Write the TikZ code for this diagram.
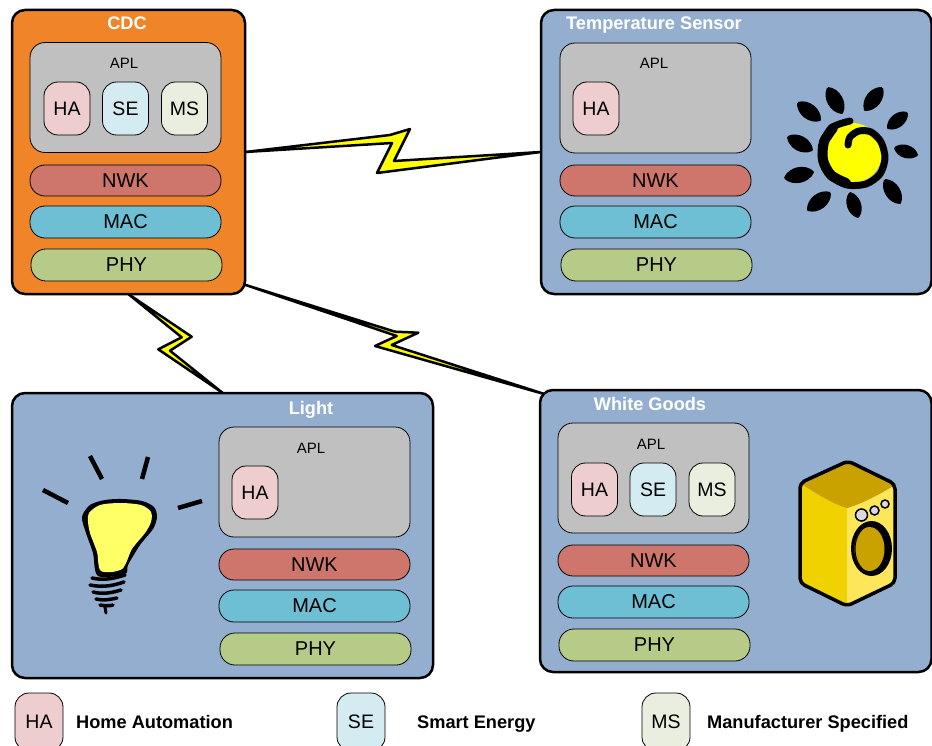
\documentclass[tikz,border=0pt]{standalone}
\usepackage{fontspec}
\setmainfont{Liberation Sans}
\usetikzlibrary{calc}
\definecolor{cdcorange}{HTML}{F08428}
\definecolor{devblue}{HTML}{94AECF}
\definecolor{aplgray}{HTML}{C0C0C0}
\definecolor{nwkred}{HTML}{CF766C}
\definecolor{macblue}{HTML}{6EBED4}
\definecolor{phygreen}{HTML}{B6CB87}
\definecolor{hapink}{HTML}{EDCDCD}
\definecolor{secyan}{HTML}{D4EBF1}
\definecolor{mscream}{HTML}{EAEEDE}
\definecolor{boltyellow}{HTML}{FFFF00}
\definecolor{bulbyellow}{HTML}{FFFF66}
\definecolor{wmtop}{HTML}{C9A200}
\definecolor{wmleft}{HTML}{F0D200}
\definecolor{wmright}{HTML}{FDE65A}
\definecolor{knobgray}{HTML}{DADADA}
\begin{document}
\begin{tikzpicture}[x=1pt,y=-1pt,
  devbox/.style={draw=black, line width=2.5pt, rounded corners=13pt, inner sep=0pt},
  devtitle/.style={anchor=base, text=white, font=\fontsize{18.2}{20}\selectfont\bfseries, inner sep=0pt},
  aplbox/.style={draw=black, line width=0.8pt, fill=aplgray, rounded corners=15pt,
    minimum width=191pt, minimum height=110pt, inner sep=0pt},
  apllabel/.style={font=\fontsize{15}{17}\selectfont, inner sep=0pt},
  layer/.style={draw=black, line width=0.8pt, rounded corners=15pt, minimum width=191pt,
    minimum height=31pt, inner sep=0pt, font=\fontsize{20}{23}\selectfont},
  proto/.style={draw=black, line width=0.8pt, rounded corners=14pt, minimum width=46pt,
    minimum height=53pt, inner sep=0pt, font=\fontsize{19.5}{22}\selectfont},
  legendtext/.style={anchor=base west, inner sep=0pt, font=\fontsize{18.2}{20}\selectfont\bfseries},
  bolt/.style={fill=boltyellow, draw=black, line width=2.5pt, line join=round},
  sunray/.style={fill=black, draw=black, line width=2pt, line join=round},
  bulbray/.style={draw=black, line width=4.5pt},
]
\path[clip] (0,0) rectangle (932,746);
\fill[white] (0,0) rectangle (932,746);

% ---- device frames (positions only; drawn again after the bolts) ----
\path (128.5,152) node[minimum width=233pt, minimum height=284pt, inner sep=0pt] (cdc) {};
\path (736.25,152) node[minimum width=390.5pt, minimum height=284pt, inner sep=0pt] (temp) {};
\path (222.5,535.5) node[minimum width=421pt, minimum height=285pt, inner sep=0pt] (light) {};
\path (735.75,531) node[minimum width=391.5pt, minimum height=282pt, inner sep=0pt] (wg) {};

% ---- radio links ----
\draw[bolt] (cdc.east) -- (390,135) -- (410,129) -- (394,161) -- (temp.west)
  -- (377,173) -- (392,143) -- cycle;
\draw[bolt] (cdc.south) -- (191.7,336.7) -- (170,350.7) -- (light.north)
  -- (158.3,349.3) -- (181.7,337.3) -- cycle;
\draw[bolt] ($(cdc.south east)+(-2,-10)$) -- (395,331.7) -- (418.3,332.7) -- (391.7,345)
  -- ($(wg.north west)+(7,5)$) -- (375,346) -- (396.7,336) -- cycle;

% ---- device frames ----
\node[devbox, fill=cdcorange, minimum width=233pt, minimum height=284pt] at (cdc) {};
\node[devbox, fill=devblue, minimum width=390.5pt, minimum height=284pt] at (temp) {};
\node[devbox, fill=devblue, minimum width=421pt, minimum height=285pt] at (light) {};
\node[devbox, fill=devblue, minimum width=391.5pt, minimum height=282pt] at (wg) {};

\node[devtitle] (cdctitle) at (127,29.5) {CDC};
\node[devtitle] (temptitle) at (654,29.5) {Temperature Sensor};
\node[devtitle] (lighttitle) at (311,414.5) {Light};
\node[devtitle] (wgtitle) at (650,410.5) {White Goods};

% ---- CDC stack ----
\node[aplbox] (cdcapl) at (125.5,97.5) {};
\node[apllabel] (cdcapllbl) at (124,63) {APL};
\node[proto, fill=hapink] (cdcha) at (67,108.5) {HA};
\node[proto, fill=secyan] (cdcse) at (125.5,108.5) {SE};
\node[proto, fill=mscream] (cdcms) at (184.5,108.5) {MS};
\node[layer, fill=nwkred] (cdcnwk) at (125.5,180.5) {NWK};
\node[layer, fill=macblue, minimum height=32pt] (cdcmac) at (125.5,222) {MAC};
\node[layer, fill=phygreen, minimum height=32pt] (cdcphy) at (126.5,265) {PHY};

% ---- Temperature sensor stack ----
\node[aplbox] (tempapl) at (655.5,98) {};
\node[apllabel] (tempapllbl) at (654,63) {APL};
\node[proto, fill=hapink] (tempha) at (596,108.5) {HA};
\node[layer, fill=nwkred] (tempnwk) at (655.5,180.5) {NWK};
\node[layer, fill=macblue, minimum height=32pt] (tempmac) at (655.5,222) {MAC};
\node[layer, fill=phygreen, minimum height=32pt] (tempphy) at (656.5,265) {PHY};

% ---- Light stack ----
\node[aplbox] (lightapl) at (314.5,482) {};
\node[apllabel] (lightapllbl) at (311,448) {APL};
\node[proto, fill=hapink] (lightha) at (255,492.5) {HA};
\node[layer, fill=nwkred] (lightnwk) at (314.5,564.5) {NWK};
\node[layer, fill=macblue, minimum height=32pt] (lightmac) at (314.5,606) {MAC};
\node[layer, fill=phygreen, minimum height=32pt] (lightphy) at (315.5,649) {PHY};

% ---- White goods stack ----
\node[aplbox] (wgapl) at (653.5,478) {};
\node[apllabel] (wgapllbl) at (651,444) {APL};
\node[proto, fill=hapink] (wgha) at (594.5,489.5) {HA};
\node[proto, fill=secyan] (wgse) at (653,489.5) {SE};
\node[proto, fill=mscream] (wgms) at (712,489.5) {MS};
\node[layer, fill=nwkred] (wgnwk) at (653.5,560.5) {NWK};
\node[layer, fill=macblue, minimum height=32pt] (wgmac) at (653.5,602) {MAC};
\node[layer, fill=phygreen, minimum height=32pt] (wgphy) at (654.5,645) {PHY};

% ---- sun ----
\fill[boltyellow] (852,153) circle (30);
\draw[sunray] (828,88) to[bend left=55] (842,113) to[bend left=55] (828,88);
\draw[sunray] (882,88) to[bend left=55] (865,110) to[bend left=55] (882,88);
\draw[sunray] (798,103) to[bend left=55] (820,120) to[bend left=55] (798,103);
\draw[sunray] (907,113) to[bend left=55] (888,128) to[bend left=55] (907,113);
\draw[sunray] (788,137) to[bend left=55] (812,150) to[bend left=55] (788,137);
\draw[sunray] (895,148) to[bend left=55] (917,155) to[bend left=55] (895,148);
\draw[sunray] (785,178) to[bend left=55] (813,172) to[bend left=55] (785,178);
\draw[sunray] (885,180) to[bend left=55] (900,203) to[bend left=55] (885,180);
\draw[sunray] (830,193) to[bend left=55] (808,210) to[bend left=55] (830,193);
\draw[sunray] (850,193) to[bend left=55] (858,217) to[bend left=55] (850,193);
\draw[line width=7pt, line cap=round, line join=round] plot[smooth] coordinates {
  (850,121) (833,127) (823,142) (822,160) (831,176) (847,185) (866,184) (880,174)
  (885,158) (881,142) (871,132) (859,131) (850,137) (848,145)};
\draw[line width=10pt, line cap=round] plot[smooth] coordinates {
  (833,128) (824,142) (823,160) (831,175) (846,183)};

% ---- light bulb ----
\draw[bulbray] (43,490) -- (68,503);
\draw[bulbray] (90,456) -- (102,479);
\draw[bulbray] (148,457) -- (142,479);
\draw[bulbray] (178,508) -- (202,501);
\fill[black] plot[smooth cycle] coordinates {
  (82,517) (90,505) (105,500) (122,499) (142,501) (154,507) (157,517) (153,529)
  (140,545) (128,565) (125,574) (98,576) (93,553) (86,533)};
\fill[bulbyellow] plot[smooth cycle] coordinates {
  (89,513) (100,505) (120,503) (141,505) (151,512) (151,522) (145,533) (132,549)
  (122,569) (101,571) (97,552) (90,533) (88,521)};
\draw[line width=3.5pt, line cap=round] (92,578) .. controls (105,581) and (115,578) .. (125,575);
\draw[line width=3.5pt, line cap=round] (90,585) .. controls (104,588) and (115,585) .. (124,582);
\draw[line width=3.5pt, line cap=round] (93,592) .. controls (104,595) and (114,592) .. (121,590);
\draw[line width=3.5pt, line cap=round] (96,599) .. controls (105,601) and (112,599) .. (117,598);
\draw[line width=3.5pt, line cap=round] (100,605) .. controls (105,606) and (110,606) .. (113,605);
\draw[line width=3pt, line cap=round] (105,607) -- (106,613);

% ---- washing machine ----
\fill[wmleft] (800,483) -- (847,508) -- (847,605) -- (800,582) -- cycle;
\fill[wmright] (847,508) -- (895,485) -- (895,582) -- (847,605) -- cycle;
\fill[wmtop] (848,462) -- (800,483) .. controls (820,496) and (835,505) .. (847,508)
  .. controls (862,504) and (880,494) .. (895,485) -- cycle;
\draw[line width=3.5pt, line join=round, rounded corners=5pt]
  (848,461) -- (895,484) -- (895,583) -- (847,606) -- (800,583) -- (800,483) -- cycle;
\fill[black] (871.5,548.5) ellipse (20.5 and 27.5);
\fill[wmtop] (869.5,549) ellipse (15 and 22);
\draw[black, line width=1pt] (872,549) ellipse (17 and 24);
\filldraw[fill=knobgray, draw=black, line width=1.5pt] (861.5,515) circle (6);
\filldraw[fill=knobgray, draw=black, line width=1.5pt] (874.5,510.5) circle (4.5);
\filldraw[fill=knobgray, draw=black, line width=1.5pt] (885,504) circle (4);

% ---- legend ----
\node[proto, fill=hapink, minimum width=48pt, minimum height=58pt] (keyha) at (39,722) {HA};
\node[legendtext] (keyhatext) at (76,728.5) {Home Automation};
\node[proto, fill=secyan, minimum width=48pt, minimum height=58pt] (keyse) at (361,722) {SE};
\node[legendtext] (keysetext) at (417,728.5) {Smart Energy};
\node[proto, fill=mscream, minimum width=48pt, minimum height=58pt] (keyms) at (666,722) {MS};
\node[legendtext] (keymstext) at (707,728.5) {Manufacturer Specified};
\end{tikzpicture}
\end{document}
